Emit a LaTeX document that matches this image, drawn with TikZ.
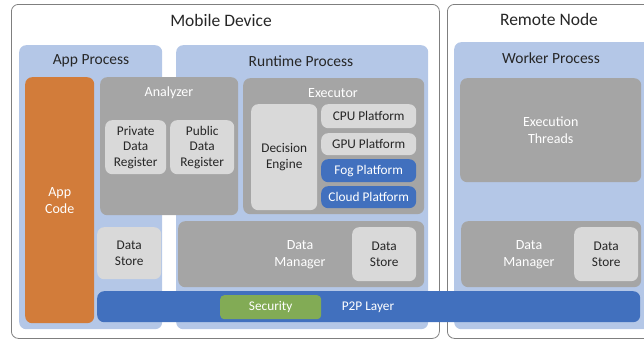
\documentclass[tikz,border=0pt]{standalone}
\usepackage{fontspec}
\setmainfont{Carlito}
\definecolor{paneblue}{HTML}{B4C7E7}
\definecolor{modgray}{HTML}{A5A5A5}
\definecolor{cellgray}{HTML}{D9D9D9}
\definecolor{appcode}{HTML}{D27C3A}
\definecolor{netblue}{HTML}{4170BE}
\definecolor{secgreen}{HTML}{82AB55}
\definecolor{framegray}{HTML}{7F7F7F}

\begin{document}
\begin{tikzpicture}[x=1pt, y=-1pt]
  \tikzset{
    blk/.style n args={4}{at={(#1,#2)}, anchor=north west, inner sep=0pt,
      minimum width={#3-#1}, minimum height={#4-#2}, rounded corners=7pt,
      align=center, font=\fontsize{13.3}{15.5}\selectfont},
    frame/.style={draw=framegray, line width=0.8pt, rounded corners=14pt},
    pane/.style={fill=paneblue},
    module/.style={fill=modgray, text=white, font=\fontsize{14}{17}\selectfont},
    cell/.style={fill=cellgray, text=black!85, rounded corners=6pt},
    net/.style={fill=netblue, text=white, rounded corners=5pt},
    bigtitle/.style={font=\fontsize{17.5}{20}\selectfont, text=black!85},
    title/.style={font=\fontsize{15.5}{18}\selectfont, text=black!85},
    modtitle/.style={font=\fontsize{14}{17}\selectfont, text=white, align=center}
  }

  \useasboundingbox (0,0) rectangle (644,340);
  \clip (0,0) rectangle (644,340);

  \node[frame, blk={11}{4}{439}{338}] (mobile) {};
  \node[frame, blk={447}{4}{680}{338}] (remote) {};
  \node[bigtitle] (mobiletitle) at (221,20) {Mobile Device};
  \node[bigtitle] (remotetitle) at (549,19) {Remote Node};

  \node[pane, blk={19}{45}{162}{329}] (app) {};
  \node[pane, blk={176}{45}{428}{329}] (runtime) {};
  \node[pane, blk={454}{42}{680}{329}] (worker) {};
  \node[title] (apptitle) at (91,61) {App Process};
  \node[title] (runtimetitle) at (301,61) {Runtime Process};
  \node[title] (workertitle) at (551,58) {Worker Process};

  \node[blk={25}{77}{94}{323}, module, fill=appcode] (appcode) {App\\Code};

  \node[blk={100}{77}{238}{215}, module] (analyzer) {};
  \node[modtitle] (analyzertitle) at (169,93) {Analyzer};
  \node[cell, blk={105}{120}{166}{174}] (private) {Private\\Data\\Register};
  \node[cell, blk={170}{120}{234}{174}] (public) {Public\\Data\\Register};

  \node[blk={243}{78}{424}{214}, module] (executor) {};
  \node[modtitle] (executortitle) at (333,93) {Executor};
  \node[cell, blk={251}{104}{317}{210}] (decision) {Decision\\Engine};
  \foreach \n/\t/\a/\b/\s in {cpu/CPU Platform/104/128/cell,
      gpu/GPU Platform/133/155/cell, fog/Fog Platform/159/182/net,
      cloud/Cloud Platform/186/208/net} {
    \node[\s, rounded corners=4pt, blk={321}{\a}{416}{\b}] (\n) {\t};
  }

  \node[cell, blk={97}{227}{161}{279}] (appstore) {Data\\Store};

  \node[blk={178}{221}{424}{287}, module] (manager) {};
  \node[modtitle] (managertext) at (300,255) {Data\\Manager};
  \node[cell, blk={352}{227}{416}{281}] (runstore) {Data\\Store};

  \node[blk={460}{78}{641}{182}, module] (threads) {Execution\\Threads};
  \node[blk={461}{221}{641}{287}, module] (remotemanager) {};
  \node[modtitle] (remotemanagertext) at (529,255) {Data\\Manager};
  \node[cell, blk={574}{227}{638}{281}] (remotestore) {Data\\Store};

  \node[net, blk={97}{291}{640}{322}] (p2p) {};
  \node[modtitle, font=\fontsize{13.3}{15.5}\selectfont] (p2ptext) at (368,307) {P2P Layer};
  \node[blk={220}{295}{321}{319}, module, fill=secgreen, rounded corners=4pt,
    font=\fontsize{13.3}{15.5}\selectfont] (security) {Security};
\end{tikzpicture}
\end{document}
